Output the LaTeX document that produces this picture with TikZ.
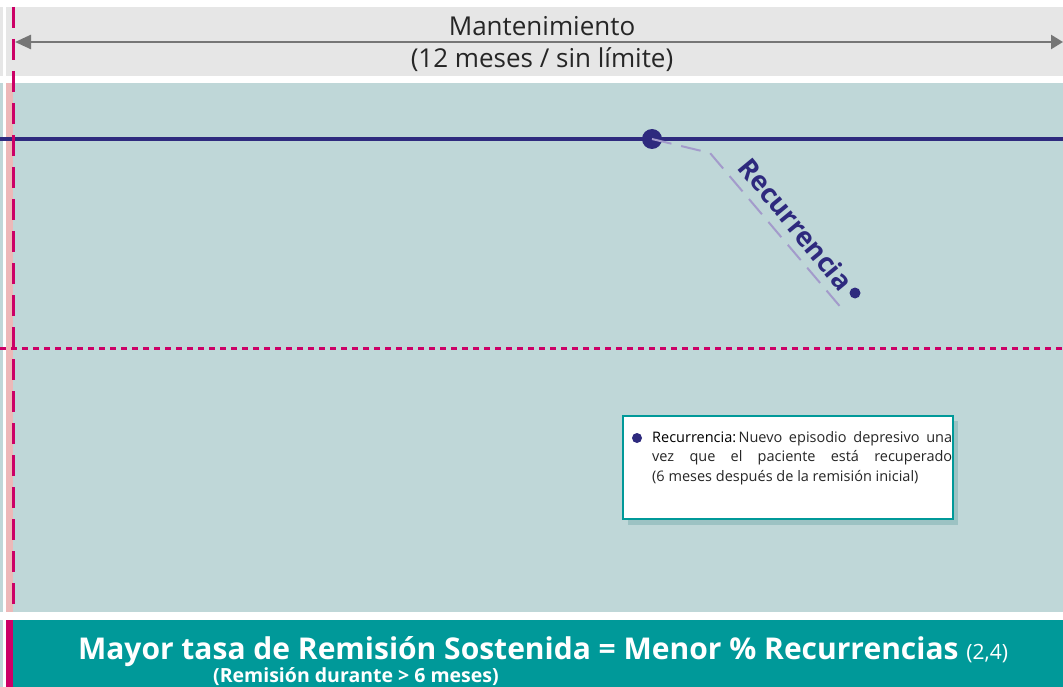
\documentclass[tikz,border=0pt]{standalone}
\usepackage{fontspec}
\setmainfont{Open Sans}
\usetikzlibrary{arrows.meta}
\definecolor{bgteal}{HTML}{BFD7D8}
\definecolor{bandgray}{HTML}{E6E6E6}
\definecolor{navy}{HTML}{2E2A7E}
\definecolor{magenta}{HTML}{CC0066}
\definecolor{pinkstrip}{HTML}{EDB8B8}
\definecolor{darkteal}{HTML}{009999}
\definecolor{lilac}{HTML}{A39BCB}
\definecolor{shadowteal}{HTML}{9CC2C3}
\definecolor{arrowgray}{HTML}{767676}
\tikzset{
  navyline/.style={navy, line width=4pt},
  magdash/.style={magenta, line width=3pt},
  dot/.style={circle, fill=navy, inner sep=0pt},
  notebox/.style={draw=darkteal, line width=2pt, fill=white, minimum width=330pt, minimum height=103pt, inner sep=0pt},
}
\begin{document}
\begin{tikzpicture}[x=1pt,y=-1pt]
\useasboundingbox (0,0) rectangle (1063,687);
\fill[white] (0,0) rectangle (1063,687);
% top band
\fill[bandgray] (6,7) rectangle (1063,76);
\fill[bandgray] (0,7) rectangle (3,76);
% main area
\fill[bgteal] (6,83) rectangle (1063,612);
\fill[bgteal] (0,83) rectangle (3,612);
\fill[pinkstrip] (6,83) rectangle (13,612);
% bottom bar
\fill[darkteal] (6,620) rectangle (1063,687);
\fill[bgteal] (0,620) rectangle (3,687);
\fill[magenta] (6,620) rectangle (13,687);
% arrow
\coordinate (aL) at (15,42);
\coordinate (aR) at (1063,42);
\draw[arrowgray, line width=2.5pt, {Triangle[length=16pt,width=14pt]}-{Triangle[length=12pt,width=14pt]}] (aL) -- (aR);
\node[font=\fontsize{26}{26}\selectfont, text=black!85] (mant) at (542,26) {Mantenimiento};
\node[font=\fontsize{26}{26}\selectfont, text=black!85] (meses) at (542,60) {(12 meses / sin límite)};
% horizontal lines
\coordinate (nL) at (0,139);
\coordinate (nR) at (1063,139);
\draw[navyline] (nL) -- (nR);
\coordinate (mL) at (0,348);
\coordinate (mR) at (1063,348);
\draw[magdash, dash pattern=on 6pt off 5pt] (mL) -- (mR);
% vertical dashed
\coordinate (vT) at (13.5,7);
\coordinate (vB) at (13.5,606);
\draw[magdash, dash pattern=on 21pt off 11pt] (vT) -- (vB);
% recurrence
\node[dot, minimum size=20pt] (big) at (652,139) {};
\coordinate (bend) at (710,153);
\coordinate (rend) at (843,310);
\draw[lilac, line width=2pt, dash pattern=on 20pt off 10pt] (big.center) -- (bend) -- (rend);
\node[dot, minimum size=11pt] (small) at (855,293) {};
\node[rotate=-50.5, font=\bfseries\fontsize{27}{27}\selectfont, text=navy, inner sep=0pt] (rec) at (796,224) {Recurrencia};
% note box
\fill[shadowteal] (628,421) rectangle (958,525);
\node[notebox, anchor=north west] (box) at (622,415) {};
\node[dot, minimum size=10pt] (bul) at (637,438) {};
\node[anchor=north west, text width=300pt, align=justify, inner sep=0pt, font=\fontsize{14.5}{19.5}\selectfont, text=black!85] (txt) at (652,431) {\hyphenpenalty=10000 {\color{black}Recurrencia:}\,Nuevo episodio depresivo una\linebreak vez que el paciente está recuperado\linebreak (6 meses después de la remisión inicial)};
% bottom text
\node[anchor=base, font=\bfseries\fontsize{30}{30}\selectfont, text=white, inner sep=0pt] (main) at (543,659) {Mayor tasa de Remisión Sostenida = Menor \% Recurrencias {\mdseries\fontsize{21}{21}\selectfont (2,4)}};
\node[anchor=base west, font=\bfseries\fontsize{19.5}{19.5}\selectfont, text=white, inner sep=0pt] (sub) at (213,682) {(Remisión durante > 6 meses)};
\end{tikzpicture}
\end{document}
